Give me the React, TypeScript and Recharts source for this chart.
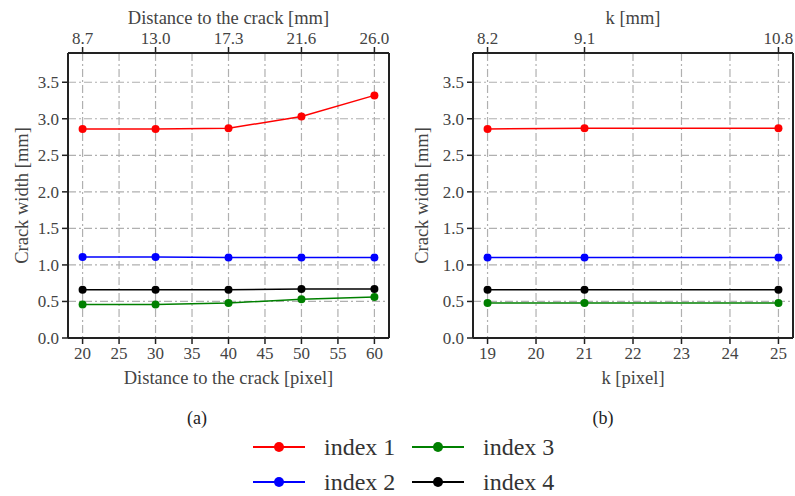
import React from 'react';
import { LineChart, Line, XAxis, YAxis, CartesianGrid } from 'recharts';

// panel (a): distance to the crack
const distPixel = [20, 30, 40, 50, 60];
const distMm = ['8.7', '13.0', '17.3', '21.6', '26.0'];
const distTicks = [20, 25, 30, 35, 40, 45, 50, 55, 60];
const distIndex1 = [2.86, 2.86, 2.87, 3.03, 3.32];
const distIndex2 = [1.11, 1.11, 1.1, 1.1, 1.1];
const distIndex3 = [0.46, 0.46, 0.48, 0.53, 0.56];
const distIndex4 = [0.66, 0.66, 0.66, 0.67, 0.67];

// panel (b): k
const kPixel = [19, 21, 25];
const kMm = ['8.2', '9.1', '10.8'];
const kTicks = [19, 20, 21, 22, 23, 24, 25];
const kIndex1 = [2.86, 2.87, 2.87];
const kIndex2 = [1.1, 1.1, 1.1];
const kIndex3 = [0.48, 0.48, 0.48];
const kIndex4 = [0.66, 0.66, 0.66];

const yTicks = [0, 0.5, 1, 1.5, 2, 2.5, 3, 3.5];

const series = [
  { key: 'i1', name: 'index 1', color: '#ff0000' },
  { key: 'i2', name: 'index 2', color: '#0000ff' },
  { key: 'i3', name: 'index 3', color: '#008000' },
  { key: 'i4', name: 'index 4', color: '#000000' },
];

const FONT = '"Liberation Serif", "Times New Roman", serif';
const TEXT = '#444';
const tickStyle = { fontSize: 17, fill: TEXT, fontFamily: FONT };

const titleX = (text: string, dy: number) => (props: any) => {
  const vb = props.viewBox || {};
  return (
    <text x={vb.x + vb.width / 2} y={vb.y + dy} textAnchor="middle" dominantBaseline="central"
      fontSize={18.5} fill={TEXT} fontFamily={FONT}>{text}</text>
  );
};

const titleY = (text: string, fromRight: number) => (props: any) => {
  const vb = props.viewBox || {};
  const x = vb.x + vb.width - fromRight;
  const y = vb.y + vb.height / 2;
  return (
    <text x={x} y={y} transform={`rotate(-90, ${x}, ${y})`} textAnchor="middle" dominantBaseline="central"
      fontSize={18.5} fill={TEXT} fontFamily={FONT}>{text}</text>
  );
};

interface PanelProps {
  data: any[];
  domain: [number, number];
  bottomTicks: number[];
  topTicks: number[];
  topLabels: string[];
  bottomTitle: string;
  topTitle: string;
  leftWidth: number;
  rightWidth: number;
  width: number;
}

const Panel: React.FC<PanelProps> = (p) => (
  <LineChart width={p.width} height={400} data={p.data} margin={{ top: 0, right: 0, bottom: 0, left: 0 }}>
    <CartesianGrid xAxisId="bottom" yAxisId="left" stroke="#b0b0b0" strokeWidth={1.2} strokeDasharray="8 3 2 3" />
    <XAxis xAxisId="bottom" dataKey="x" type="number" domain={p.domain} ticks={p.bottomTicks}
      height={62} tick={tickStyle} tickSize={6} tickMargin={3} stroke="#222" strokeWidth={2}
      tickLine={{ stroke: '#222', strokeWidth: 1.5 }} allowDataOverflow
      label={{ content: titleX(p.bottomTitle, 40) }} />
    <XAxis xAxisId="top" orientation="top" dataKey="x" type="number" domain={p.domain} ticks={p.topTicks}
      tickFormatter={(v: number) => p.topLabels[p.topTicks.indexOf(v)]}
      height={53} tick={tickStyle} tickSize={6} tickMargin={3} stroke="#222" strokeWidth={2}
      tickLine={{ stroke: '#222', strokeWidth: 1.5 }} allowDataOverflow
      label={{ content: titleX(p.topTitle, 18) }} />
    <YAxis yAxisId="left" type="number" domain={[0, 3.9]} ticks={yTicks} width={p.leftWidth}
      tickFormatter={(v: number) => v.toFixed(1)} tick={tickStyle} tickSize={6} tickMargin={3}
      stroke="#222" strokeWidth={2} tickLine={{ stroke: '#222', strokeWidth: 1.5 }} allowDataOverflow
      label={{ content: titleY('Crack width [mm]', p.leftWidth - 22) }} />
    <YAxis yAxisId="right" orientation="right" type="number" domain={[0, 3.9]} width={p.rightWidth}
      tick={false} tickLine={false} stroke="#222" strokeWidth={2} allowDataOverflow />
    {series.map((s) => (
      <Line key={s.key} xAxisId="bottom" yAxisId="left" dataKey={s.key} stroke={s.color} strokeWidth={1.5}
        dot={{ r: 4, fill: s.color, stroke: s.color, strokeWidth: 0 }} isAnimationActive={false} />
    ))}
  </LineChart>
);

const LegendItem: React.FC<{ name: string; color: string; x: number; y: number }> = ({ name, color, x, y }) => (
  <div style={{ position: 'absolute', left: x, top: y - 16, height: 32, display: 'flex', alignItems: 'center' }}>
    <svg width={52} height={12} style={{ marginRight: 19 }}>
      <line x1={0} y1={6} x2={52} y2={6} stroke={color} strokeWidth={2} />
      <circle cx={26} cy={6} r={5} fill={color} />
    </svg>
    <span style={{ fontFamily: FONT, fontSize: 24, color: '#333', whiteSpace: 'nowrap' }}>{name}</span>
  </div>
);

export default function App() {
  const distData = distPixel.map((x, i) => ({
    x, i1: distIndex1[i], i2: distIndex2[i], i3: distIndex3[i], i4: distIndex4[i],
  }));
  const kData = kPixel.map((x, i) => ({
    x, i1: kIndex1[i], i2: kIndex2[i], i3: kIndex3[i], i4: kIndex4[i],
  }));

  return (
    <div style={{ position: 'absolute', left: 0, top: 0, width: 795, height: 496, background: '#fff', overflow: 'hidden' }}>
      <div style={{ position: 'absolute', left: 0, top: 0 }}>
        <Panel data={distData} domain={[18, 62]} bottomTicks={distTicks} topTicks={distPixel} topLabels={distMm}
          bottomTitle="Distance to the crack [pixel]" topTitle="Distance to the crack [mm]"
          leftWidth={68} rightWidth={11} width={400} />
      </div>
      <div style={{ position: 'absolute', left: 400, top: 0 }}>
        <Panel data={kData} domain={[18.7, 25.3]} bottomTicks={kTicks} topTicks={kPixel} topLabels={kMm}
          bottomTitle="k [pixel]" topTitle="k [mm]"
          leftWidth={73} rightWidth={2} width={395} />
      </div>
      <div style={{ position: 'absolute', left: 177, top: 408, width: 40, textAlign: 'center', fontFamily: FONT, fontSize: 18, color: '#222' }}>(a)</div>
      <div style={{ position: 'absolute', left: 583, top: 408, width: 40, textAlign: 'center', fontFamily: FONT, fontSize: 18, color: '#222' }}>(b)</div>
      <LegendItem name={series[0].name} color={series[0].color} x={253} y={447} />
      <LegendItem name={series[1].name} color={series[1].color} x={253} y={482} />
      <LegendItem name={series[2].name} color={series[2].color} x={412} y={447} />
      <LegendItem name={series[3].name} color={series[3].color} x={412} y={482} />
    </div>
  );
}
